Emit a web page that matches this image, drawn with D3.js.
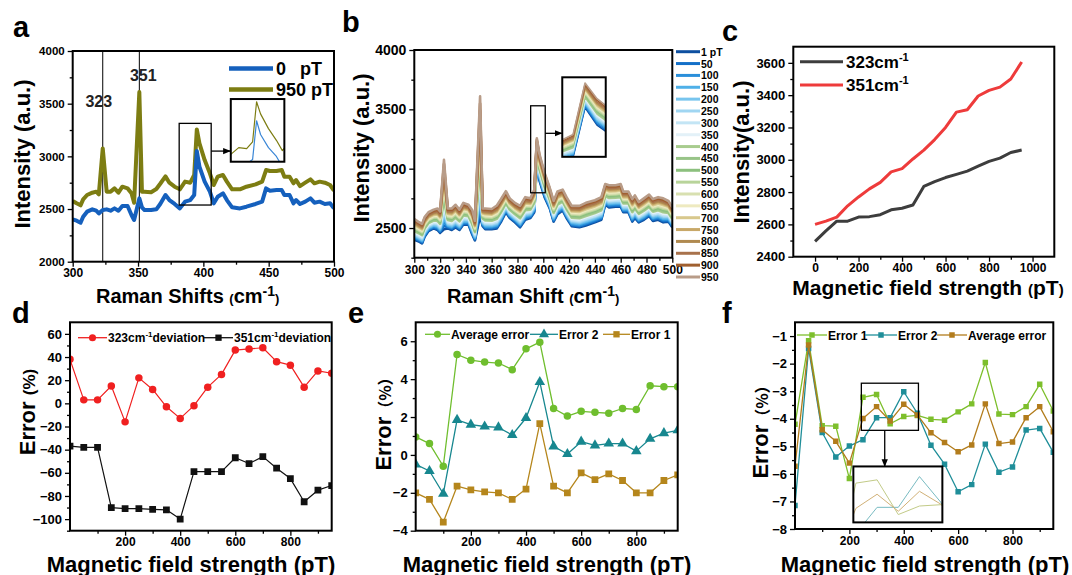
<!DOCTYPE html>
<html>
<head>
<meta charset="utf-8">
<script src="https://cdn.jsdelivr.net/npm/d3@7/dist/d3.min.js"></script>
<style>
  body { margin: 0; background: #fff; }
  svg { font-family: "Liberation Sans", Arial, sans-serif; }
</style>
</head>
<body>
<svg width="1072" height="575"></svg>
<script>
// ---------------- data ----------------
// panel a: Raman spectra (cm-1 -> intensity)
var shift = [300,303,306,308,311,315,318,320,323,326,329,332,335,338,342,345,347,351,353,355,
             360,364,367,371,374,378,382,386,390,393,395,397,401,405,408,411,415,418,422,428,
             433,440,445,448,451,456,460,462,466,469,471,474,478,482,485,489,493,497,500];
var int0pT = [2402,2389,2370,2427,2475,2497,2484,2459,2490,2497,2484,2506,2484,2529,2529,2443,2396,2601,2516,2490,
              2490,2497,2548,2633,2585,2548,2506,2570,2585,2633,3050,2902,2760,2665,2554,2617,2649,2585,2516,2506,
              2522,2548,2570,2696,2674,2680,2680,2633,2633,2554,2585,2548,2570,2601,2560,2570,2548,2554,2506];
var int950pT = [2576,2554,2535,2592,2633,2655,2665,2640,3075,2665,2665,2696,2655,2712,2696,2650,2560,3610,2665,2665,
                2660,2690,2740,2810,2750,2712,2687,2760,2750,2823,3255,3124,2965,2839,2728,2807,2823,2760,2687,2687,
                2712,2734,2760,2870,2861,2861,2870,2807,2807,2744,2775,2718,2750,2782,2744,2760,2750,2728,2674];

// panel b: field series and where each trace sits inside the 0 / 950 pT band
var bFields = ["1 pT","50","100","150","200","250","300","350","400","450",
               "500","550","600","650","700","750","800","850","900","950"];
var bLevel = [0,0.05,0.1,0.15,0.2,0.25,0.3,0.36,0.42,0.47,0.52,0.57,0.62,0.67,0.72,0.77,0.82,0.88,0.94,1];
var bColors = ["#0d4fa0","#1470c8","#2a8fda","#4fb0e8","#78c5ee","#a0d6f2","#c3e5f5","#e3f1f8","#a8cc8e","#98c488",
               "#8cc07e","#b8d49a","#d8e0b0","#eeeac0","#d8c88c","#c8a868","#b08a50","#a8724c","#a06030","#b89c88"];

// panels c-f: magnetic field strength (pT)
var field = [0,50,100,150,200,250,300,350,400,450,500,550,600,650,700,750,800,850,900,950];
var peak323 = [2495,2560,2620,2620,2645,2648,2660,2690,2700,2720,2835,2865,2890,2910,2930,2960,2990,3010,3045,3060];
var peak351 = [2600,2620,2645,2715,2770,2820,2860,2925,2945,3005,3060,3125,3200,3295,3310,3395,3430,3450,3500,3605];

var dev323 = [38,3,3,15,-16,22,12,-3,-13,-2,14,25,46,47,48,36,33,14,28,26];
var dev351 = [-37,-38,-38,-90,-91,-91,-91.5,-92,-100,-59,-59,-59,-47,-52,-46,-56,-65,-85,-75,-71];

var eAvg  = [0.95,0.6,-0.6,5.3,5.0,4.9,4.85,4.5,5.6,5.95,2.45,2.05,2.3,2.25,2.2,2.45,2.4,3.65,3.6,3.6];
var eErr2 = [-0.5,-0.85,-2.05,1.85,1.6,1.5,1.45,1.05,1.95,3.85,0.45,0.05,0.7,0.5,0.6,0.6,0.2,0.85,1.15,1.3];
var eErr1 = [-2.0,-2.35,-3.55,-1.65,-1.85,-1.95,-2.0,-2.35,-1.8,1.65,-1.65,-2.0,-0.95,-1.3,-1.0,-1.35,-2.0,-2.0,-1.35,-1.05];

var fErr1 = [-4.2,-1.17,-4.25,-4.27,-6.17,-3.22,-3.12,-4.18,-3.92,-3.88,-4.02,-4.05,-3.75,-3.46,-1.96,-3.83,-3.85,-3.56,-2.75,-3.72];
var fErr2 = [-7.15,-1.45,-4.5,-5.39,-4.99,-4.76,-3.96,-3.96,-3.02,-3.8,-4.96,-5.65,-6.65,-6.39,-4.92,-5.94,-5.75,-4.41,-4.35,-5.22];
var fAvg  = [-5.72,-1.32,-4.4,-4.82,-5.61,-3.99,-3.56,-4.08,-3.47,-3.86,-4.51,-4.86,-5.2,-4.95,-3.46,-4.9,-4.84,-3.96,-3.56,-4.47];

// ---------------- helpers ----------------
var svg = d3.select("svg");
var defs = svg.append("defs");

defs.append("marker")
    .attr("id", "arrow")
    .attr("viewBox", "0 0 10 10")
    .attr("refX", 9).attr("refY", 5)
    .attr("markerWidth", 6).attr("markerHeight", 6)
    .attr("orient", "auto")
    .append("path").attr("d", "M0,1L10,5L0,9z").attr("fill", "#000");

// box = [left, right, top, bottom]
function panel(id, box, xDom, yDom) {
  var g = svg.append("g");
  var x = d3.scaleLinear().domain(xDom).range([box[0], box[1]]);
  var y = d3.scaleLinear().domain(yDom).range([box[3], box[2]]);
  defs.append("clipPath").attr("id", "clip-" + id)
      .append("rect")
      .attr("x", box[0]).attr("y", box[2])
      .attr("width", box[1] - box[0]).attr("height", box[3] - box[2]);
  var plot = g.append("g").attr("clip-path", "url(#clip-" + id + ")");
  return { g: g, plot: plot, x: x, y: y, box: box };
}

function styleAxis(sel, size) {
  sel.attr("font-family", "'Liberation Sans', Arial, sans-serif")
     .attr("font-size", size)
     .attr("font-weight", "bold");
  sel.select(".domain").remove();
  sel.selectAll(".tick line").attr("stroke", "#000").attr("stroke-width", 1.3);
  sel.selectAll(".tick text").attr("fill", "#000");
}

function axes(p, o) {
  var b = p.box;
  var pad = o.xPad == null ? 4 : o.xPad;
  p.g.append("g").attr("transform", "translate(0," + b[3] + ")")
     .call(d3.axisBottom(p.x).tickValues(o.xMinor).tickSize(3).tickFormat(""))
     .call(styleAxis, o.xFont);
  p.g.append("g").attr("transform", "translate(0," + b[3] + ")")
     .call(d3.axisBottom(p.x).tickValues(o.xTicks).tickSize(5).tickPadding(pad).tickFormat(d3.format("d")))
     .call(styleAxis, o.xFont);
  p.g.append("g").attr("transform", "translate(" + b[0] + ",0)")
     .call(d3.axisLeft(p.y).tickValues(o.yMinor).tickSize(3).tickFormat(""))
     .call(styleAxis, o.yFont);
  p.g.append("g").attr("transform", "translate(" + b[0] + ",0)")
     .call(d3.axisLeft(p.y).tickValues(o.yTicks).tickSize(5).tickPadding(3).tickFormat(d3.format("d")))
     .call(styleAxis, o.yFont);
}

function frame(p) {
  var b = p.box;
  p.g.append("rect")
     .attr("x", b[0]).attr("y", b[2])
     .attr("width", b[1] - b[0]).attr("height", b[3] - b[2])
     .attr("fill", "none").attr("stroke", "#000").attr("stroke-width", 2);
}

// text made of pieces: [text, size, dy, family]
function rich(x, y, parts, rotate, anchor) {
  var t = svg.append("text")
     .attr("x", x).attr("y", y)
     .attr("font-weight", "bold")
     .attr("text-anchor", anchor || "middle")
     .attr("fill", "#000");
  if (rotate) t.attr("transform", "rotate(-90," + x + "," + y + ")");
  parts.forEach(function(q) {
    var s = t.append("tspan").attr("font-size", q[1]).text(q[0]);
    if (q[2]) s.attr("dy", q[2]);
    if (q[3]) s.attr("font-family", q[3]);
  });
  return t;
}

function letter(x, y, s) {
  svg.append("text").attr("x", x).attr("y", y)
     .attr("font-size", 29).attr("font-weight", "bold").text(s);
}

function series(p, xs, ys, color, width, sym, size) {
  var line = d3.line().x(function(d, i) { return p.x(xs[i]); }).y(function(d) { return p.y(d); });
  p.plot.append("path").datum(ys)
     .attr("d", line).attr("fill", "none")
     .attr("stroke", color).attr("stroke-width", width)
     .attr("stroke-linejoin", "round");
  if (!sym) return;
  p.plot.selectAll(null).data(ys).enter().append("path")
     .attr("transform", function(d, i) { return "translate(" + p.x(xs[i]) + "," + p.y(d) + ")"; })
     .attr("d", d3.symbol().type(sym).size(size))
     .attr("fill", color);
}

function legendItem(x0, x1, y, color, sym, size, parts) {
  svg.append("line").attr("x1", x0).attr("x2", x1).attr("y1", y).attr("y2", y)
     .attr("stroke", color).attr("stroke-width", 1.3);
  svg.append("path").attr("transform", "translate(" + ((x0 + x1) / 2) + "," + y + ")")
     .attr("d", d3.symbol().type(sym).size(size)).attr("fill", color);
  rich(x1 + 1, y + 4.5, parts, false, "start");
}

// ---------------- panel a ----------------
var pa = panel("a", [72.7, 334, 51, 261.7], [300, 500], [2000, 4000]);
axes(pa, { xTicks: d3.range(300, 501, 50), xMinor: d3.range(325, 500, 50), xPad: 2,
           yTicks: d3.range(2000, 4001, 500), yMinor: d3.range(2250, 4000, 500), xFont: 12, yFont: 11.5 });

[323, 351].forEach(function(v) {
  pa.plot.append("line").attr("x1", pa.x(v)).attr("x2", pa.x(v))
     .attr("y1", pa.box[2]).attr("y2", pa.box[3]).attr("stroke", "#000").attr("stroke-width", 1);
});
series(pa, shift, int950pT, "#7d7d12", 4);
series(pa, shift, int0pT, "#1560bd", 4);

svg.append("text").attr("x", pa.x(323) - 4).attr("y", 107).attr("text-anchor", "middle")
   .attr("font-size", 16).attr("font-weight", "bold").attr("fill", "#222").text("323");
svg.append("text").attr("x", pa.x(351) + 4).attr("y", 81).attr("text-anchor", "middle")
   .attr("font-size", 16).attr("font-weight", "bold").attr("fill", "#222").text("351");

// small box round the 395 peak and its enlargement
pa.g.append("rect").attr("x", pa.x(381.5)).attr("y", pa.y(3313))
   .attr("width", pa.x(406) - pa.x(381.5)).attr("height", pa.y(2538) - pa.y(3313))
   .attr("fill", "none").attr("stroke", "#000").attr("stroke-width", 1.3);
pa.g.append("line").attr("x1", pa.x(406)).attr("x2", pa.x(420.5))
   .attr("y1", pa.y(3050)).attr("y2", pa.y(3050))
   .attr("stroke", "#000").attr("stroke-width", 1.3).attr("marker-end", "url(#arrow)");
var ia = panel("ainset", [pa.x(421), pa.x(462), pa.y(3544), pa.y(2949)], [382, 409], [2608, 3284]);
series(ia, shift, int950pT, "#7d7d12", 1.2);
series(ia, shift, int0pT, "#3a86d6", 1.2);
frame(ia);

// legend a
svg.append("line").attr("x1", 229).attr("x2", 273).attr("y1", 68.5).attr("y2", 68.5)
   .attr("stroke", "#1560bd").attr("stroke-width", 4.5);
svg.append("line").attr("x1", 229).attr("x2", 273).attr("y1", 89.5).attr("y2", 89.5)
   .attr("stroke", "#7d7d12").attr("stroke-width", 4.5);
svg.append("text").attr("x", 276).attr("y", 75).attr("font-size", 18).attr("font-weight", "bold").text("0");
svg.append("text").attr("x", 300).attr("y", 75).attr("font-size", 18).attr("font-weight", "bold").text("pT");
svg.append("text").attr("x", 276).attr("y", 96).attr("font-size", 18).attr("font-weight", "bold").text("950 pT");
frame(pa);

rich(30, 154, [["Intensity (a.u.)", 22]], true);
rich(96, 303, [["Raman Shifts ", 20], ["(", 13], ["cm", 20], ["-1", 14, -7], [")", 13, 7]], false, "start");
letter(13, 37, "a");

// ---------------- panel b ----------------
var pb = panel("b", [414.3, 672.3, 50, 257.7], [300, 500], [2250, 4000]);
axes(pb, { xTicks: d3.range(300, 501, 20), xMinor: d3.range(310, 500, 20), xPad: 3,
           yTicks: [2500, 3000, 3500, 4000], yMinor: [2250, 2750, 3250, 3750], xFont: 12, yFont: 14 });

var bSeries = bLevel.map(function(t) {
  return int0pT.map(function(v, j) { return v + t * (int950pT[j] - v); });
});
bSeries.forEach(function(s, i) { series(pb, shift, s, bColors[i], 2.6); });

pb.g.append("rect").attr("x", pb.x(390.2)).attr("y", pb.y(3530))
   .attr("width", pb.x(401.5) - pb.x(390.2)).attr("height", pb.y(2797) - pb.y(3530))
   .attr("fill", "none").attr("stroke", "#000").attr("stroke-width", 1.3);
pb.g.append("line").attr("x1", pb.x(401.5)).attr("x2", pb.x(414.3))
   .attr("y1", pb.y(3298)).attr("y2", pb.y(3298))
   .attr("stroke", "#000").attr("stroke-width", 1.3).attr("marker-end", "url(#arrow)");
var ib = panel("binset", [pb.x(414.7), pb.x(448.4), pb.y(3770), pb.y(3100)], [391.2, 398.45], [2636, 3303]);
bSeries.forEach(function(s, i) { series(ib, shift, s, bColors[i], 1.6); });
frame(ib);
frame(pb);

var ly = d3.scalePoint().domain(bFields).range([51.7, 277]);
bFields.forEach(function(f, i) {
  svg.append("line").attr("x1", 676).attr("x2", 700).attr("y1", ly(f)).attr("y2", ly(f))
     .attr("stroke", bColors[i]).attr("stroke-width", 3);
  svg.append("text").attr("x", 701).attr("y", ly(f) + 4).attr("font-size", 10.5)
     .attr("font-weight", "bold").text(f);
});

rich(369, 148, [["Intensity (a.u.)", 22]], true);
rich(447, 303, [["Raman Shift ", 20], ["(", 13], ["cm", 20], ["-1", 14, -7], [")", 13, 7]], false, "start");
letter(342, 32, "b");

// ---------------- panel c ----------------
var pc = panel("c", [793.3, 1054.3, 46.7, 256.7], [-100, 1100], [2400, 3700]);
axes(pc, { xTicks: d3.range(0, 1001, 200), xMinor: d3.range(100, 1000, 200), xPad: 2,
           yTicks: d3.range(2400, 3601, 200), yMinor: d3.range(2500, 3700, 200), xFont: 12, yFont: 13 });
series(pc, field, peak323, "#3d3d3d", 3);
series(pc, field, peak351, "#ee3b3b", 3);
frame(pc);

svg.append("line").attr("x1", 800).attr("x2", 843).attr("y1", 61.7).attr("y2", 61.7)
   .attr("stroke", "#3d3d3d").attr("stroke-width", 3);
svg.append("line").attr("x1", 800).attr("x2", 843).attr("y1", 85).attr("y2", 85)
   .attr("stroke", "#ee3b3b").attr("stroke-width", 3);
rich(846, 67.5, [["323cm", 17], ["-1", 11, -7]], false, "start");
rich(846, 91, [["351cm", 17], ["-1", 11, -7]], false, "start");

rich(749, 152, [["Intensity(a.u.)", 22]], true);
rich(928, 295, [["Magnetic field strength ", 21], ["(", 15], ["pT", 21], [")", 15]], false);
letter(722, 41, "c");

// ---------------- panel d ----------------
var fieldTicks = [200, 400, 600, 800], fieldMinor = [100, 300, 500, 700, 900];
var pd = panel("d", [70, 331.7, 322.3, 530.7], [0, 950], [-110, 70]);
axes(pd, { xTicks: fieldTicks, xMinor: fieldMinor, xPad: 2,
           yTicks: d3.range(-100, 61, 20), yMinor: d3.range(-110, 70, 20), xFont: 12, yFont: 13 });
series(pd, field, dev323, "#f02020", 1.2, d3.symbolCircle, 44);
series(pd, field, dev351, "#111111", 1.2, d3.symbolSquare, 46);
frame(pd);

legendItem(78, 107, 337.7, "#f02020", d3.symbolCircle, 40,
           [["323cm", 12], ["-1", 8, -5], ["deviation", 12, 5]]);
legendItem(204, 233, 337.7, "#111111", d3.symbolSquare, 40,
           [["351cm", 12], ["-1", 8, -5], ["deviation", 12, 5]]);

rich(35, 412, [["Error ", 22], ["(%)", 17]], true);
rich(191, 571.5, [["Magnetic field strength (pT)", 22]], false);
letter(12, 323, "d");

// ---------------- panel e ----------------
var pe = panel("e", [415.7, 677.7, 322.3, 530.7], [0, 950], [-4, 7]);
axes(pe, { xTicks: fieldTicks, xMinor: fieldMinor, xPad: 2,
           yTicks: [-4, -2, 0, 2, 4, 6], yMinor: [-3, -1, 1, 3, 5], xFont: 12, yFont: 13 });
series(pe, field, eAvg, "#6fbe2e", 1.3, d3.symbolCircle, 44);
series(pe, field, eErr2, "#17878f", 1.3, d3.symbolTriangle, 48);
series(pe, field, eErr1, "#b5861c", 1.3, d3.symbolSquare, 46);
frame(pe);

legendItem(425, 450, 334.3, "#6fbe2e", d3.symbolCircle, 40, [["Average error", 12]]);
legendItem(530, 558, 334.3, "#17878f", d3.symbolTriangle, 44, [["Error 2", 12]]);
legendItem(603, 630, 334.3, "#b5861c", d3.symbolSquare, 40, [["Error 1", 12]]);

rich(391, 420, [["Error", 22], ["（%）", 16, 0, "'Noto Sans CJK SC'"]], true);
rich(547, 571.5, [["Magnetic field strength (pT)", 22]], false);
letter(348, 323, "e");

// ---------------- panel f ----------------
var pf = panel("f", [795, 1053.3, 322.3, 529], [0, 950], [-8, -0.5]);
axes(pf, { xTicks: fieldTicks, xMinor: fieldMinor, xPad: 2,
           yTicks: d3.range(-8, -0.9, 1), yMinor: d3.range(-7.5, -1, 1), xFont: 12, yFont: 13 });
series(pf, field, fErr1, "#7dbf2c", 1.3, d3.symbolSquare, 30);
series(pf, field, fErr2, "#1f8e99", 1.3, d3.symbolSquare, 30);
series(pf, field, fAvg, "#b27c1c", 1.3, d3.symbolSquare, 30);

pf.g.append("rect").attr("x", pf.x(244)).attr("y", pf.y(-2.71))
   .attr("width", pf.x(454) - pf.x(244)).attr("height", pf.y(-4.42) - pf.y(-2.71))
   .attr("fill", "none").attr("stroke", "#000").attr("stroke-width", 1.3);
pf.g.append("line").attr("x1", pf.x(330)).attr("x2", pf.x(330))
   .attr("y1", pf.y(-4.42)).attr("y2", pf.y(-5.72))
   .attr("stroke", "#000").attr("stroke-width", 1.3).attr("marker-end", "url(#arrow)");
var ifx = panel("finset", [pf.x(214.6), pf.x(542), pf.y(-5.73), pf.y(-7.76)], [244, 454], [-4.42, -2.71]);
ifx.g.insert("rect", ":first-child").attr("x", ifx.box[0]).attr("y", ifx.box[2])
   .attr("width", ifx.box[1] - ifx.box[0]).attr("height", ifx.box[3] - ifx.box[2]).attr("fill", "#fff");
ifx.plot.attr("opacity", 0.6);
series(ifx, field, fErr1, "#9aa838", 1);
series(ifx, field, fErr2, "#1f8e99", 1);
series(ifx, field, fAvg, "#b27c1c", 1);
frame(ifx);
frame(pf);

legendItem(797, 827, 335, "#7dbf2c", d3.symbolSquare, 30, [["Error 1", 12]]);
legendItem(865, 897, 335, "#1f8e99", d3.symbolSquare, 30, [["Error 2", 12]]);
legendItem(937, 967, 335, "#b27c1c", d3.symbolSquare, 30, [["Average error", 12]]);

rich(768, 428, [["Error", 22], ["（%）", 16, 0, "'Noto Sans CJK SC'"]], true);
rich(925, 571.5, [["Magnetic field strength (pT)", 22]], false);
letter(722, 323, "f");
</script>
</body>
</html>
